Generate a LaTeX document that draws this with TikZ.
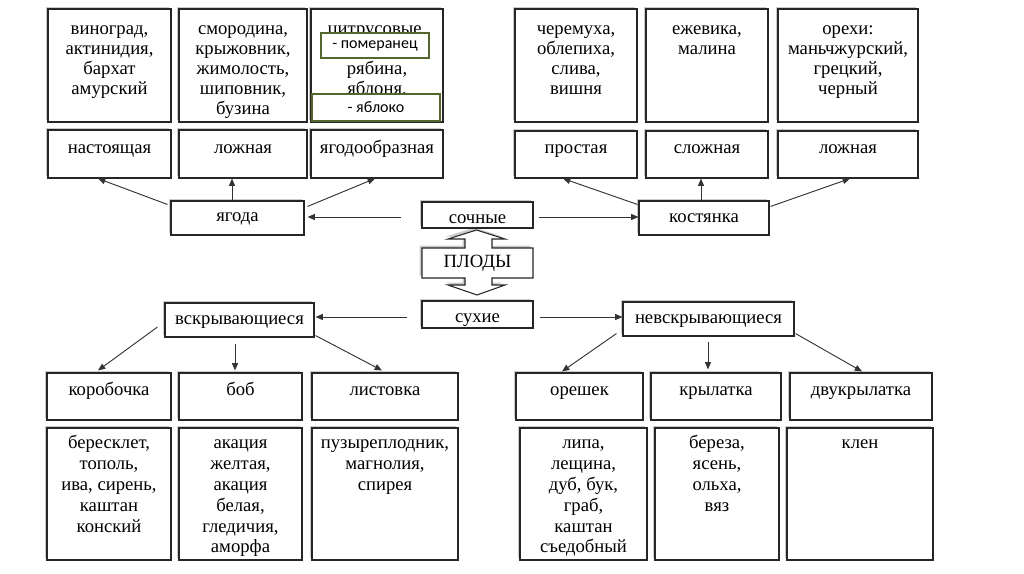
\documentclass[tikz,border=0pt]{standalone}
\usepackage{fontspec}
\setmainfont{Liberation Serif}
\newfontfamily\sansf{Carlito}
\usetikzlibrary{fit,calc,shadows,arrows.meta}
\definecolor{olv}{RGB}{84,102,44}
\begin{document}
\begin{tikzpicture}[x=0.75pt,y=-0.75pt,
  box/.style={draw=black!85, line width=0.8pt, fill=white, inner sep=0pt,
    drop shadow={shadow xshift=-1.8pt, shadow yshift=1.8pt, fill=black!45, opacity=0.45}},
  txt/.style={font=\fontsize{14}{15}\selectfont, align=center, inner sep=0pt, text=black},
  txtb/.style={txt, font=\fontsize{14}{15.6}\selectfont},
  pbox/.style={draw=olv, line width=1.2pt, fill=white, inner sep=0pt},
  ptxt/.style={font=\sansf\fontsize{12}{14}\selectfont, inner sep=0pt, text=black},
  arr/.style={draw=black!80, line width=0.7pt, -{Triangle[length=5.5pt,width=4.5pt]}}
]
\useasboundingbox (0,0) rectangle (1024,574);

% ---------- top row: examples ----------
\node[box, fit={(48,9)(171,122)}] (a1) {};
\node[txt, anchor=north] (a1t) at ($(a1.north)+(0,11.5)$) {\strut виноград,\\актинидия,\\бархат\\амурский};
\node[box, fit={(179,9)(307,122)}] (a2) {};
\node[txt, anchor=north] (a2t) at ($(a2.north)+(0,11.5)$) {\strut смородина,\\крыжовник,\\жимолость,\\шиповник,\\бузина};
\node[box, fit={(311,9)(443,122)}] (a3) {};
\node[txt, anchor=north] (a3t) at ($(a3.north)+(0,11.5)$) {\strut цитрусовые,\\\mbox{}\\рябина,\\яблоня,};
\node[pbox, fit={(321,33)(429,58)}] (p1) {};
\node[ptxt] (p1t) at (p1.center) {- померанец};
\node[pbox, fit={(312,94)(440,121)}] (p2) {};
\node[ptxt] (p2t) at (p2.center) {- яблоко};

\node[box, fit={(515,9)(637,122)}] (a4) {};
\node[txt, anchor=north] (a4t) at ($(a4.north)+(0,11.5)$) {\strut черемуха,\\облепиха,\\слива,\\вишня};
\node[box, fit={(646,9)(768,122)}] (a5) {};
\node[txt, anchor=north] (a5t) at ($(a5.north)+(0,11.5)$) {\strut ежевика,\\малина};
\node[box, fit={(778,9)(918,122)}] (a6) {};
\node[txt, anchor=north] (a6t) at ($(a6.north)+(0,11.5)$) {\strut орехи:\\маньчжурский,\\грецкий,\\черный};

% ---------- top row: types ----------
\node[box, fit={(48,130)(171,178)}] (l1) {};
\node[txt, anchor=north] (l1t) at ($(l1.north)+(0,9.3)$) {\strut настоящая};
\node[box, fit={(179,130)(307,178)}] (l2) {};
\node[txt, anchor=north] (l2t) at ($(l2.north)+(0,9.3)$) {\strut ложная};
\node[box, fit={(311,130)(443,178)}] (l3) {};
\node[txt, anchor=north] (l3t) at ($(l3.north)+(0,9.3)$) {\strut ягодообразная};
\node[box, fit={(515,131)(637,178)}] (l4) {};
\node[txt, anchor=north] (l4t) at ($(l4.north)+(0,8.3)$) {\strut простая};
\node[box, fit={(646,131)(768,178)}] (l5) {};
\node[txt, anchor=north] (l5t) at ($(l5.north)+(0,8.3)$) {\strut сложная};
\node[box, fit={(778,131)(918,178)}] (l6) {};
\node[txt, anchor=north] (l6t) at ($(l6.north)+(0,8.3)$) {\strut ложная};

% ---------- middle ----------
\node[box, fit={(171,201)(304,235)}] (yag) {};
\node[txt] (yagt) at ($(yag.center)+(0,-1)$) {\strut ягода};
\node[box, fit={(639,201)(769,235)}] (kos) {};
\node[txt] (kost) at (kos.center) {\strut костянка};

\draw[box] (476.5,230) -- (505,239) -- (492,239) -- (492,248) -- (533,248) -- (533,278)
  -- (492,278) -- (492,285) -- (505,285) -- (477,295) -- (448,285) -- (465,285)
  -- (465,278) -- (422,278) -- (422,248) -- (465,248) -- (465,239) -- (448,239) -- cycle;
\node[txt] (plody) at (477.5,263) {\strut ПЛОДЫ};

\node[box, fit={(422,202)(533,228)}] (soc) {};
\node[txt] (soct) at ($(soc.center)+(0,4)$) {\strut сочные};
\node[box, fit={(422,301)(533,328)}] (suh) {};
\node[txt] (suht) at ($(suh.center)+(0,3.5)$) {\strut сухие};

\node[box, fit={(165,303)(314,337)}] (vsk) {};
\node[txt] (vskt) at ($(vsk.center)+(0,0.5)$) {\strut вскрывающиеся};
\node[box, fit={(623,302)(794,336)}] (nev) {};
\node[txt] (nevt) at (nev.center) {\strut невскрывающиеся};

% ---------- bottom row: types ----------
\node[box, fit={(47,373)(171,420)}] (b1) {};
\node[txt, anchor=north] (b1t) at ($(b1.north)+(0,8.3)$) {\strut коробочка};
\node[box, fit={(179,373)(302,420)}] (b2) {};
\node[txt, anchor=north] (b2t) at ($(b2.north)+(0,8.3)$) {\strut боб};
\node[box, fit={(312,373)(458,420)}] (b3) {};
\node[txt, anchor=north] (b3t) at ($(b3.north)+(0,8.3)$) {\strut листовка};
\node[box, fit={(516,373)(643,420)}] (b4) {};
\node[txt, anchor=north] (b4t) at ($(b4.north)+(0,8.3)$) {\strut орешек};
\node[box, fit={(651,373)(781,420)}] (b5) {};
\node[txt, anchor=north] (b5t) at ($(b5.north)+(0,8.3)$) {\strut крылатка};
\node[box, fit={(790,373)(932,420)}] (b6) {};
\node[txt, anchor=north] (b6t) at ($(b6.north)+(0,8.3)$) {\strut двукрылатка};

% ---------- bottom row: examples ----------
\node[box, fit={(47,428)(171,560)}] (c1) {};
\node[txtb, anchor=north] (c1t) at ($(c1.north)+(0,6.7)$) {\strut бересклет,\\тополь,\\ива, сирень,\\каштан\\конский};
\node[box, fit={(179,428)(302,560)}] (c2) {};
\node[txtb, anchor=north] (c2t) at ($(c2.north)+(0,6.7)$) {\strut акация\\желтая,\\акация\\белая,\\гледичия,\\аморфа};
\node[box, fit={(312,428)(458,560)}] (c3) {};
\node[txtb, anchor=north] (c3t) at ($(c3.north)+(0,6.7)$) {\strut пузыреплодник,\\магнолия,\\спирея};
\node[box, fit={(520,428)(647,560)}] (c4) {};
\node[txtb, anchor=north] (c4t) at ($(c4.north)+(0,6.7)$) {\strut липа,\\лещина,\\дуб, бук,\\граб,\\каштан\\съедобный};
\node[box, fit={(655,428)(779,560)}] (c5) {};
\node[txtb, anchor=north] (c5t) at ($(c5.north)+(0,6.7)$) {\strut береза,\\ясень,\\ольха,\\вяз};
\node[box, fit={(787,428)(933,560)}] (c6) {};
\node[txtb, anchor=north] (c6t) at ($(c6.north)+(0,6.7)$) {\strut клен};

% ---------- connectors ----------
\draw[arr] ($(yag.north west)+(-3,4)$) -- ($(l1.south)+(-11.5,0)$);
\draw[arr] ($(yag.north)+(-5.5,0)$) -- ($(l2.south)+(-11,0)$);
\draw[arr] ($(yag.north east)+(3,6)$) -- ($(l3.south)+(-2,0)$);

\draw[arr] ($(kos.north west)+(-1,4)$) -- ($(l4.south)+(-13,0)$);
\draw[arr] ($(kos.north)+(-3,0)$) -- ($(l5.south)+(-6,0)$);
\draw[arr] ($(kos.north east)+(1,6)$) -- ($(l6.south)+(2,0)$);

\draw[arr] ($(soc.west)+(-20,2)$) -- ($(yag.east)+(3,-1)$);
\draw[arr] ($(soc.east)+(5,2)$) -- ($(kos.west)+(0,-1)$);
\draw[arr] ($(suh.west)+(-14,2.5)$) -- ($(vsk.east)+(1,-3)$);
\draw[arr] ($(suh.east)+(6,2.5)$) -- ($(nev.west)+(0,-2)$);

\draw[arr] ($(vsk.west)+(-7,7)$) -- ($(b1.north)+(-11,-2)$);
\draw[arr] ($(vsk.south)+(-4.5,6)$) -- ($(b2.north)+(-5.5,-2)$);
\draw[arr] ($(vsk.south east)+(1,-2)$) -- ($(b3.north)+(-3,-2)$);

\draw[arr] ($(nev.south west)+(-6,-3)$) -- ($(b4.north)+(-17.5,-1)$);
\draw[arr] ($(nev.south)+(-0.5,5)$) -- ($(b5.north)+(-8,-3)$);
\draw[arr] ($(nev.south east)+(1,-3)$) -- ($(b6.north)+(1,-1)$);
\end{tikzpicture}
\end{document}
